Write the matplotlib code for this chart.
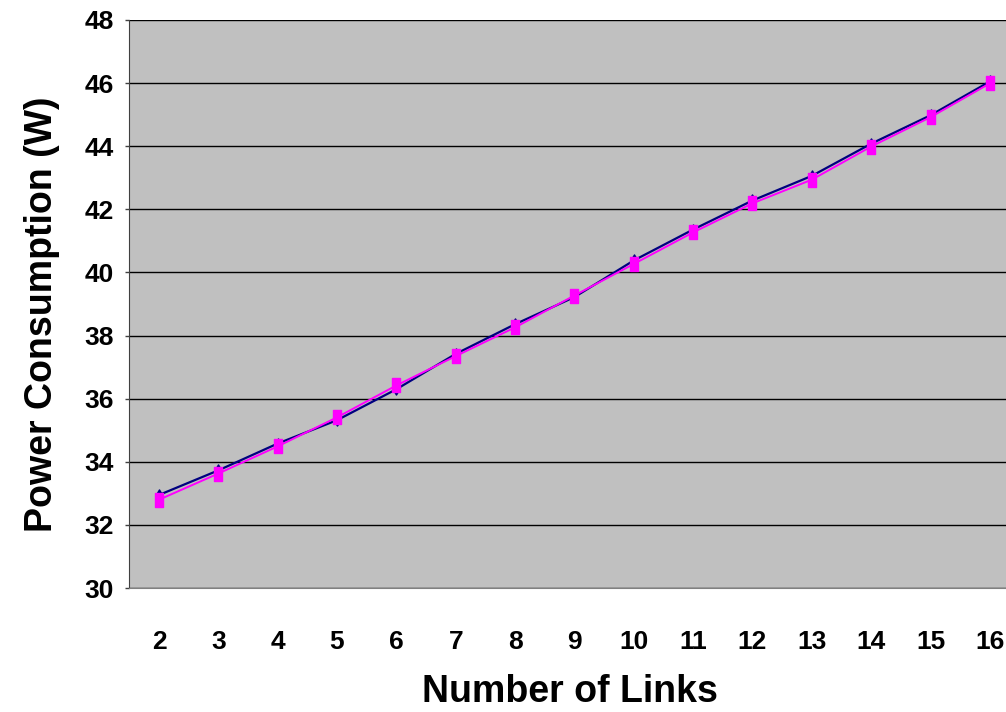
import numpy as np
import matplotlib
matplotlib.use("Agg")
import matplotlib.pyplot as plt
from matplotlib.path import Path

# data
links = [2, 3, 4, 5, 6, 7, 8, 9, 10, 11, 12, 13, 14, 15, 16]
power_a = [32.95, 33.73, 34.58, 35.32, 36.30, 37.42, 38.36, 39.22, 40.38,
           41.36, 42.28, 43.06, 44.08, 44.98, 46.05]
power_b = [32.80, 33.63, 34.49, 35.41, 36.42, 37.35, 38.26, 39.27, 40.27,
           41.27, 42.19, 42.94, 43.99, 44.92, 45.99]
yticks = [30, 32, 34, 36, 38, 40, 42, 44, 46, 48]

plt.rcParams['font.family'] = ['Liberation Sans', 'DejaVu Sans']

fig = plt.figure(figsize=(10.06, 7.12), dpi=100)
# axes spill past the right edge like in the original
ax = fig.add_axes([0.1285, 0.174, 0.885, 0.798])
ax.set_facecolor('#C0C0C0')

xpos = np.arange(len(links))

# tall markers (squares stretched) and thin diamonds
rect = Path([(-0.3, -0.5), (0.3, -0.5), (0.3, 0.5), (-0.3, 0.5), (-0.3, -0.5)],
            [Path.MOVETO, Path.LINETO, Path.LINETO, Path.LINETO, Path.CLOSEPOLY])
diam = Path([(0, -0.5), (0.3, 0), (0, 0.5), (-0.3, 0), (0, -0.5)],
            [Path.MOVETO, Path.LINETO, Path.LINETO, Path.LINETO, Path.CLOSEPOLY])

ax.plot(xpos, power_a, color='#000080', lw=1.6, marker=diam, ms=8,
        mfc='#000080', mec='#000080', zorder=3)
ax.plot(xpos, power_b, color='#FF00FF', lw=1.4, marker=rect, ms=10.5,
        mfc='#FF00FF', mec='#FF00FF', zorder=4)

ax.set_xlim(-0.5, len(links) - 0.5)
ax.set_ylim(30, 48)
ax.set_yticks(yticks)
ax.set_yticklabels([str(v) for v in yticks], fontsize=19, fontweight='bold')
ax.set_xticks(xpos)
ax.set_xticklabels([str(v) for v in links], fontsize=19, fontweight='bold')
ax.tick_params(axis='x', length=0, pad=30)
ax.tick_params(axis='y', length=3, width=1, color='#404040', pad=8)

ax.yaxis.grid(True, color='black', lw=1)
ax.set_axisbelow(True)

for s in ['top', 'right']:
    ax.spines[s].set_visible(False)
ax.spines['left'].set_color('#404040')
ax.spines['bottom'].set_color('#808080')

fig.text(0.567, 0.014, 'Number of Links', fontsize=27, fontweight='bold',
         ha='center', va='baseline')
fig.text(0.042, 0.559, 'Power Consumption (W)', fontsize=27, fontweight='bold',
         ha='center', va='center', rotation=90)

fig.savefig('out.png', dpi=100)
